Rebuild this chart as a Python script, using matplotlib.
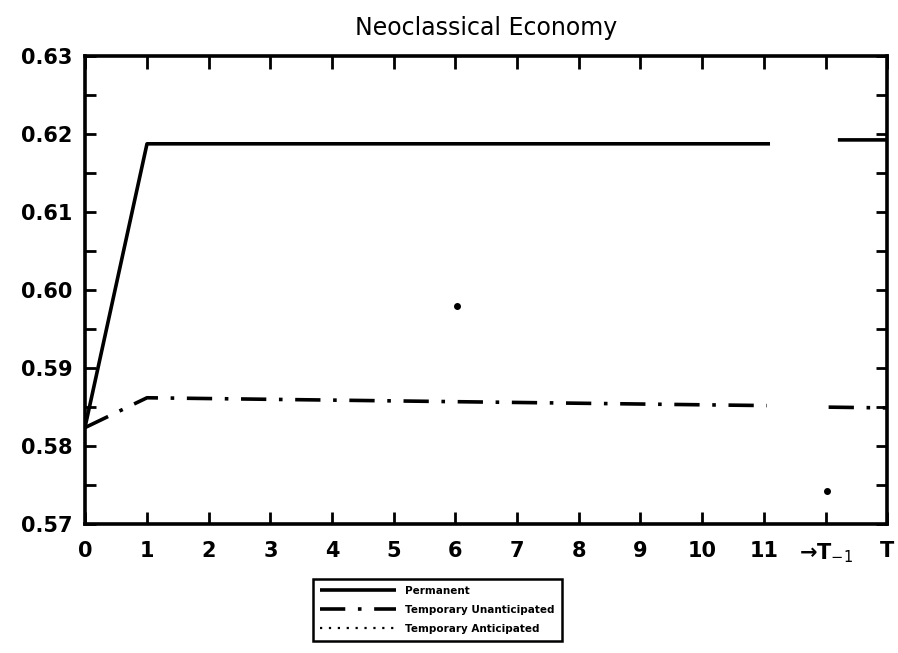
import numpy as np
import matplotlib
matplotlib.use('Agg')
import matplotlib.pyplot as plt

# x positions 0..11, then T-1 (12) and T (13); NaN marks the break in the axis
tick_pos = list(range(14))
tick_labels = [str(i) for i in range(12)] + ['→T$_{-1}$', 'T']

perm_x = [0, 1, 2, 3, 4, 5, 6, 7, 8, 9, 10, 11.1, np.nan, 12.2, 13]
perm_y = [0.5826, 0.6187, 0.6187, 0.6187, 0.6187, 0.6187, 0.6187, 0.6187,
          0.6187, 0.6187, 0.6187, 0.6187, np.nan, 0.6192, 0.6192]

unant_x = [0, 1, 2, 3, 4, 5, 6, 7, 8, 9, 10, 11.05, np.nan, 12.05, 13]
unant_y = [0.5824, 0.5862, 0.5861, 0.5860, 0.5859, 0.5858, 0.5857, 0.5856,
           0.5855, 0.5854, 0.5853, 0.5852, np.nan, 0.5850, 0.5849]

# stray specks in the scanned figure
speck_x = [6.03, 12.03]
speck_y = [0.5979, 0.5743]

plt.rcParams['font.family'] = ['DejaVu Sans']

fig = plt.figure(figsize=(8.98, 6.53), dpi=100)
ax = fig.add_axes([0.095, 0.197, 0.893, 0.718])

dashdot = (0, (7, 3.5, 1, 3.5))
ax.plot(perm_x, perm_y, color='black', lw=2.6, solid_capstyle='butt',
        label='Permanent')
ax.plot(unant_x, unant_y, color='black', lw=2.6, linestyle=dashdot,
        label='Temporary Unanticipated')
ax.plot([], [], color='black', lw=1.6, linestyle=(0, (1, 3)),
        label='Temporary Anticipated')
ax.plot(speck_x, speck_y, 'o', color='black', ms=4)

ax.set_xlim(0, 13)
ax.set_ylim(0.57, 0.63)
ax.set_xticks(tick_pos)
ax.set_xticklabels(tick_labels)
ax.set_yticks([0.57, 0.58, 0.59, 0.60, 0.61, 0.62, 0.63])
ax.set_yticklabels(['0.57', '0.58', '0.59', '0.60', '0.61', '0.62', '0.63'])
ax.set_yticks(np.arange(0.575, 0.63, 0.01), minor=True)

ax.tick_params(axis='both', which='both', direction='in', width=2,
               top=True, right=True)
ax.tick_params(axis='y', which='both', length=8, pad=9, labelsize=15)
ax.tick_params(axis='x', which='major', length=9, pad=12, labelsize=15)
for lab in ax.get_xticklabels() + ax.get_yticklabels():
    lab.set_fontweight('bold')

for sp in ax.spines.values():
    sp.set_linewidth(2.6)

ax.set_title('Neoclassical Economy', fontsize=17, pad=15)

leg = fig.legend(loc='center', bbox_to_anchor=(0.487, 0.066),
                 prop={'size': 7.5, 'weight': 'bold'}, handlelength=7.3,
                 handletextpad=0.8, labelspacing=0.85, borderpad=0.7,
                 fancybox=False, framealpha=1, edgecolor='black')
leg.get_frame().set_linewidth(1.8)

fig.savefig('out.png', dpi=100)
